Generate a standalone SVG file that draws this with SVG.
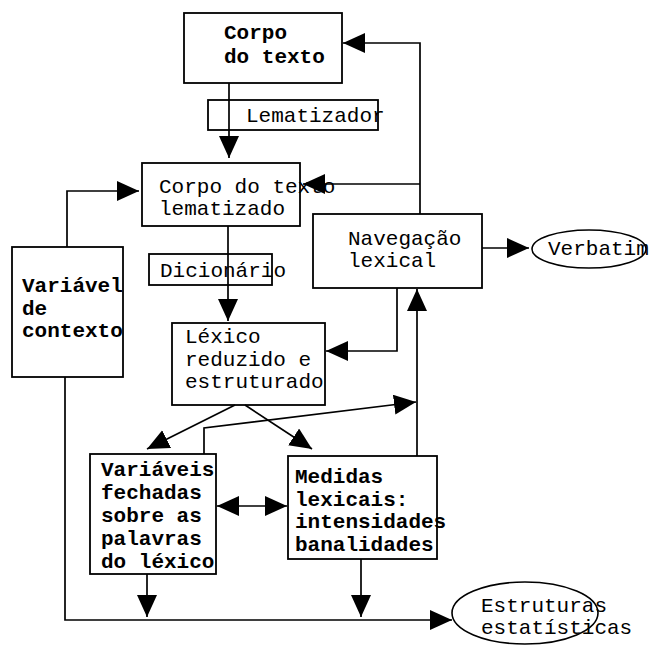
<svg xmlns="http://www.w3.org/2000/svg" width="653" height="646" viewBox="0 0 653 646">
  <defs>
    <marker id="arrow" markerUnits="userSpaceOnUse" markerWidth="24" markerHeight="22" refX="22" refY="10" orient="auto-start-reverse">
      <path d="M0,0 L22,10 L0,20 z" fill="#000"/>
    </marker>
  </defs>
  <style>
    .box { fill: none; stroke: #000; stroke-width: 1.8; }
    .ell { fill: none; stroke: #000; stroke-width: 1.6; }
    .arr { fill: none; stroke: #000; stroke-width: 1.7; marker-end: url(#arrow); }
    text { font-family: "Liberation Mono", "Courier New", monospace; font-size: 21px; fill: #000; }
    .b { font-weight: bold; }
  </style>
  <rect width="653" height="646" fill="#fff"/>

  <g id="corpo-texto">
    <rect class="box" x="184" y="13" width="158" height="70"/>
    <text class="b" x="224" y="39">Corpo</text>
    <text class="b" x="224" y="63">do texto</text>
  </g>

  <g id="lematizador">
    <rect class="box" x="208" y="100" width="170" height="30"/>
    <text x="246" y="122">Lematizador</text>
  </g>

  <g id="corpo-lematizado">
    <rect class="box" x="142" y="163" width="158" height="63"/>
    <text x="159" y="193">Corpo do texto</text>
    <text x="159" y="215">lematizado</text>
  </g>

  <g id="dicionario">
    <rect class="box" x="149" y="254" width="123" height="31"/>
    <text x="160" y="277">Dicionário</text>
  </g>

  <g id="variavel-contexto">
    <rect class="box" x="12" y="247" width="111" height="130"/>
    <text class="b" x="22" y="292">Variável</text>
    <text class="b" x="22" y="315">de</text>
    <text class="b" x="22" y="337">contexto</text>
  </g>

  <g id="navegacao">
    <rect class="box" x="313" y="214" width="169" height="74"/>
    <text x="348" y="245">Navegação</text>
    <text x="348" y="267">lexical</text>
  </g>

  <g id="verbatim">
    <ellipse class="ell" cx="589" cy="249" rx="57" ry="19"/>
    <text x="548" y="255">Verbatim</text>
  </g>

  <g id="lexico">
    <rect class="box" x="172" y="323" width="153" height="82"/>
    <text x="185" y="343">Léxico</text>
    <text x="185" y="366">reduzido e</text>
    <text x="185" y="388">estruturado</text>
  </g>

  <g id="variaveis-fechadas">
    <rect class="box" x="90" y="454" width="126" height="120"/>
    <text class="b" x="101" y="476">Variáveis</text>
    <text class="b" x="101" y="499">fechadas</text>
    <text class="b" x="101" y="522">sobre as</text>
    <text class="b" x="101" y="545">palavras</text>
    <text class="b" x="101" y="568">do léxico</text>
  </g>

  <g id="medidas-lexicais">
    <rect class="box" x="288" y="456" width="149" height="103"/>
    <text class="b" x="295" y="483">Medidas</text>
    <text class="b" x="295" y="506">lexicais:</text>
    <text class="b" x="295" y="528">intensidades</text>
    <text class="b" x="295" y="551">banalidades</text>
  </g>

  <g id="estruturas">
    <ellipse class="ell" cx="525" cy="613" rx="73" ry="31"/>
    <text x="481" y="612">Estruturas</text>
    <text x="481" y="634">estatísticas</text>
  </g>

  <g id="connectors">
    <!-- Corpo do texto -> Corpo do texto lematizado (through Lematizador) -->
    <path class="arr" d="M229,83 V158"/>
    <!-- lematizado -> Léxico (through Dicionário) -->
    <path class="arr" d="M228,226 V321"/>
    <!-- Navegação -> Corpo do texto -->
    <path class="arr" d="M420,214 V43 H343"/>
    <!-- Navegação -> Corpo do texto lematizado -->
    <path class="arr" d="M420,184 H303"/>
    <!-- Variável de contexto -> lematizado -->
    <path class="arr" d="M67,247 V191 H139"/>
    <!-- Navegação -> Verbatim -->
    <path class="arr" d="M482,248 H529"/>
    <!-- Navegação -> Léxico -->
    <path class="arr" d="M397,288 V351 H326"/>
    <!-- Medidas -> Navegação -->
    <path class="arr" d="M417,456 V289"/>
    <!-- Variáveis fechadas -> Navegação path -->
    <path class="arr" d="M204,454 V428 L416,402"/>
    <!-- Léxico -> Variáveis fechadas / Medidas -->
    <path class="arr" d="M235,405 L147,449"/>
    <path class="arr" d="M245,405 L312,449"/>
    <!-- Variáveis fechadas <-> Medidas -->
    <path class="arr" d="M217,506 H287" style="marker-start:url(#arrow)"/>
    <!-- to Estruturas estatísticas -->
    <path class="arr" d="M65,377 V620 H452"/>
    <path class="arr" d="M147,574 V617"/>
    <path class="arr" d="M361,559 V617"/>
  </g>
</svg>
